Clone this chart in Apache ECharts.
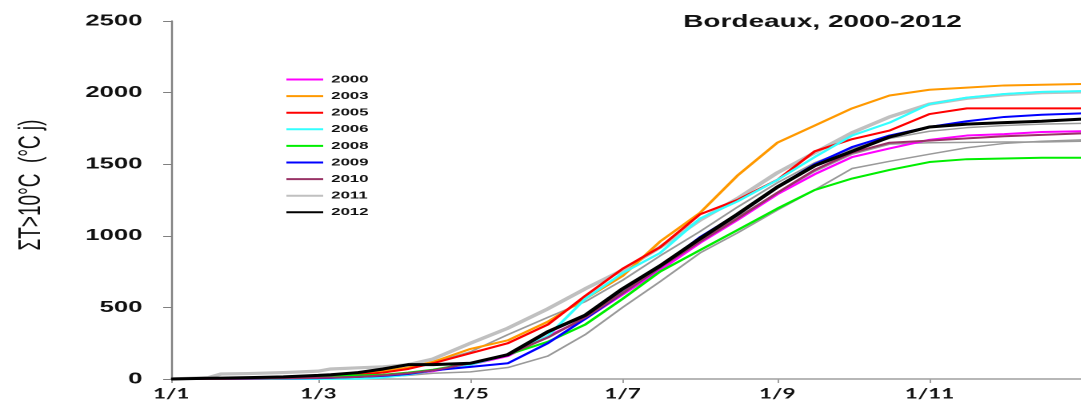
<!DOCTYPE html>
<html>
<head>
<meta charset="utf-8">
<script src="https://cdn.jsdelivr.net/npm/echarts@6/dist/echarts.min.js"></script>
<style>
html,body{margin:0;padding:0;background:#fff;overflow:hidden;width:1081px;height:405px;}
#c{width:676px;height:405px;transform:scaleX(1.6);transform-origin:0 0;}
</style>
</head>
<body>
<div id="c"></div>
<script>
// Day of year (0 = 1 January) at which each value is read
const days = [0,15,20,31,45,59,64,75,85,95,105,120,135,151,166,181,196,212,227,243,258,273,288,304,319,334,349,365];

// Cumulative degree-days above 10 °C
const y2000 = [0,0,0,2,4,8,10,15,22,35,55,100,160,300,420,590,760,950,1110,1290,1430,1550,1610,1670,1700,1710,1725,1730];
const y2003 = [0,3,4,8,12,20,25,40,55,80,120,210,270,400,560,720,960,1160,1420,1650,1770,1890,1980,2020,2035,2050,2055,2060];
const y2005 = [0,3,3,6,10,15,18,30,45,70,110,180,250,380,580,770,920,1150,1250,1390,1590,1675,1735,1850,1890,1890,1890,1890];
const y2006 = [0,0,0,0,0,0,0,2,10,30,60,100,170,300,560,740,880,1120,1240,1390,1550,1700,1790,1920,1965,1990,2005,2010];
const y2008 = [0,2,3,5,10,20,22,25,30,45,65,110,170,260,380,560,750,900,1040,1190,1320,1400,1460,1515,1535,1540,1545,1545];
const y2009 = [0,0,0,2,4,6,8,15,22,35,60,85,110,250,420,600,780,990,1150,1340,1500,1620,1700,1760,1800,1830,1845,1855];
const y2010 = [0,0,0,2,4,8,10,15,25,40,60,110,170,290,430,600,780,960,1120,1300,1460,1580,1650,1665,1680,1695,1705,1715];
const y2011 = [0,10,35,38,45,55,70,78,85,100,140,250,355,490,630,760,920,1110,1260,1440,1580,1720,1830,1920,1960,1985,2000,2005];
const y2012 = [0,5,6,10,15,25,30,45,70,100,100,110,170,330,445,630,790,980,1150,1340,1490,1590,1690,1760,1780,1790,1800,1815];
// other years drawn in grey, without legend entry
const yGreyA = [0,5,6,10,15,25,28,40,55,80,115,190,310,430,540,690,860,1030,1200,1370,1510,1610,1680,1730,1755,1770,1780,1785];
const yGreyB = [0,0,0,2,4,6,7,10,15,25,40,50,80,160,310,500,680,880,1020,1180,1320,1470,1520,1570,1615,1645,1660,1670];
const yGreyC = [0,0,0,2,4,8,10,15,25,40,60,110,170,290,430,610,790,970,1130,1300,1450,1570,1640,1650,1652,1655,1655,1660];

// x axis tick labels
const xTickDays = [0,59,120,181,243,304];
const xTickLabels = ['1/1','1/3','1/5','1/7','1/9','1/11'];
const yTicks = [0,500,1000,1500,2000,2500];

const legendYears = ['2000','2003','2005','2006','2008','2009','2010','2011','2012'];
const yAxisTitle = 'ΣT>10°C  (°C j)';

function pts(arr){ return days.map((d,i)=>[d,arr[i]]); }
function ser(name, arr, color, width, z){
  return {name:name, type:'line', data:pts(arr), symbol:'none', showSymbol:false, z:z||2,
    lineStyle:{color:color, width:width, join:'round'}, itemStyle:{color:color}, emphasis:{disabled:true}, animation:false};
}

const chart = echarts.init(document.getElementById('c'), null, {devicePixelRatio:2});
chart.setOption({
  animation:false,
  backgroundColor:'#fff',
  title:{text:'Bordeaux, 2000-2012', left:422, top:8,
    textStyle:{fontFamily:'Liberation Sans, Arial, sans-serif', fontWeight:'bold', fontSize:17.5, color:'#111'}},
  legend:{data:legendYears, orient:'vertical', left:173, top:69, itemWidth:23, itemHeight:12, itemGap:5.6,
    itemStyle:{opacity:0},
    textStyle:{fontFamily:'Liberation Sans, Arial, sans-serif', fontWeight:'bold', fontSize:10.5, color:'#111'}},
  graphic:[{type:'text', x:20, y:185, rotation:Math.PI/2,
    style:{text:yAxisTitle, fontFamily:'Liberation Sans, Arial, sans-serif', fontSize:19, fill:'#111',
      align:'center', verticalAlign:'middle'}}],
  grid:{left:107, right:0, top:21, bottom:26, containLabel:false},
  xAxis:{type:'value', min:0, max:365,
    axisLine:{show:true, lineStyle:{color:'#a0a0a0', width:1.5}},
    axisTick:{show:true, customValues:xTickDays, length:4, lineStyle:{color:'#a0a0a0'}},
    axisLabel:{customValues:xTickDays, margin:8,
      formatter:function(v){ const i = xTickDays.indexOf(v); return i>=0 ? xTickLabels[i] : ''; },
      fontFamily:'Lato, Liberation Sans, sans-serif', fontWeight:'bold', fontSize:14, color:'#111'},
    splitLine:{show:false}},
  yAxis:{type:'value', min:0, max:2500, interval:500,
    axisLine:{show:true, lineStyle:{color:'#808080', width:1.2}},
    axisTick:{show:true, inside:false, length:5, lineStyle:{color:'#808080'}},
    axisLabel:{margin:18, fontFamily:'Liberation Sans, Arial, sans-serif', fontWeight:'bold', fontSize:16, color:'#111',
      formatter:function(v){ return yTicks.indexOf(v)>=0 ? String(v) : ''; }},
    splitLine:{show:false}},
  series:[
    ser('2001', yGreyA, '#9a9a9a', 1.5, 1),
    ser('2004', yGreyB, '#9a9a9a', 1.5, 1),
    ser('2007', yGreyC, '#9a9a9a', 1.5, 1),
    ser('2011', y2011, '#c0c0c0', 3.2, 2),
    ser('2000', y2000, '#ff00ff', 2, 3),
    ser('2003', y2003, '#ff9900', 2, 3),
    ser('2005', y2005, '#ff0000', 2, 3),
    ser('2006', y2006, '#33ffff', 2, 3),
    ser('2008', y2008, '#00ee00', 2, 3),
    ser('2009', y2009, '#0000ff', 2, 3),
    ser('2010', y2010, '#993366', 2, 3),
    ser('2012', y2012, '#000000', 3, 4)
  ]
});
</script>
</body>
</html>
